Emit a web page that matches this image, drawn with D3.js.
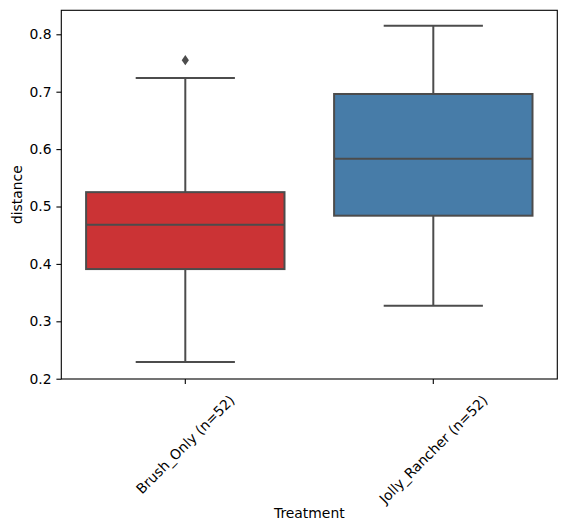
<!DOCTYPE html>
<html>
<head>
<meta charset="utf-8">
<script src="https://cdn.jsdelivr.net/npm/d3@7"></script>
<style>
  body { margin: 0; background: #fff; }
  text { font-family: "DejaVu Sans", sans-serif; }
</style>
</head>
<body>
<div id="chart"></div>
<script>
// Data
const categories = ["Brush_Only (n=52)", "Jolly_Rancher (n=52)"];
const whiskerLow = [0.229, 0.327];
const q1 = [0.391, 0.484];
const median = [0.468, 0.583];
const q3 = [0.525, 0.696];
const whiskerHigh = [0.724, 0.815];
const outliers = [[0.755], []];
const colors = ["#cb3335", "#477ca8"];
const yTicks = [0.2, 0.3, 0.4, 0.5, 0.6, 0.7, 0.8];

const FRAME_WIDTH = 567;
const FRAME_HEIGHT = 532;
const MARGINS = {left: 61.3, right: 9.7, top: 10.3, bottom: 153};
const LINE = "#4c4c4c";

const svg = d3.select("#chart")
  .append("svg")
    .attr("width", FRAME_WIDTH)
    .attr("height", FRAME_HEIGHT);

const x = d3.scaleBand()
  .domain(categories)
  .range([MARGINS.left, FRAME_WIDTH - MARGINS.right])
  .padding(0);

const y = d3.scaleLinear()
  .domain([0.1995, 0.8418])
  .range([FRAME_HEIGHT - MARGINS.bottom, MARGINS.top]);

const boxW = x.bandwidth() * 0.8;
const capW = boxW / 2;

// build rows for drawing
const rows = categories.map((c, i) => ({
  cat: c, lo: whiskerLow[i], q1: q1[i], med: median[i], q3: q3[i],
  hi: whiskerHigh[i], out: outliers[i], color: colors[i]
}));

const g = svg.append("g");

rows.forEach(r => {
  const cx = x(r.cat) + x.bandwidth() / 2;
  // whiskers
  g.append("line").attr("x1", cx).attr("x2", cx)
    .attr("y1", y(r.q3)).attr("y2", y(r.hi))
    .attr("stroke", LINE).attr("stroke-width", 2);
  g.append("line").attr("x1", cx).attr("x2", cx)
    .attr("y1", y(r.q1)).attr("y2", y(r.lo))
    .attr("stroke", LINE).attr("stroke-width", 2);
  // caps
  [r.lo, r.hi].forEach(v => {
    g.append("line").attr("x1", cx - capW / 2).attr("x2", cx + capW / 2)
      .attr("y1", y(v)).attr("y2", y(v))
      .attr("stroke", LINE).attr("stroke-width", 2);
  });
  // box
  g.append("rect")
    .attr("x", cx - boxW / 2).attr("width", boxW)
    .attr("y", y(r.q3)).attr("height", y(r.q1) - y(r.q3))
    .attr("fill", r.color).attr("stroke", LINE).attr("stroke-width", 2);
  // median
  g.append("line").attr("x1", cx - boxW / 2).attr("x2", cx + boxW / 2)
    .attr("y1", y(r.med)).attr("y2", y(r.med))
    .attr("stroke", LINE).attr("stroke-width", 2);
  // fliers (thin diamonds)
  r.out.forEach(v => {
    const py = y(v);
    g.append("path")
      .attr("d", `M${cx},${py - 5.2}L${cx + 3.6},${py}L${cx},${py + 5.2}L${cx - 3.6},${py}Z`)
      .attr("fill", LINE);
  });
});

// spines
svg.append("rect")
  .attr("x", MARGINS.left).attr("y", MARGINS.top)
  .attr("width", FRAME_WIDTH - MARGINS.left - MARGINS.right)
  .attr("height", FRAME_HEIGHT - MARGINS.top - MARGINS.bottom)
  .attr("fill", "none").attr("stroke", "#000").attr("stroke-width", 1.1);

// y axis
const yAxis = svg.append("g")
  .attr("transform", `translate(${MARGINS.left},0)`)
  .call(d3.axisLeft(y).tickValues(yTicks).tickFormat(d3.format(".1f"))
    .tickSize(4.9).tickPadding(4.9));
yAxis.select(".domain").remove();
yAxis.selectAll("line").attr("stroke", "#000").attr("stroke-width", 1.1);
yAxis.selectAll("text").attr("font-size", 13.9).attr("fill", "#000")
  .attr("font-family", "DejaVu Sans");

// x axis
const baseY = FRAME_HEIGHT - MARGINS.bottom;
const xAxis = svg.append("g")
  .attr("transform", `translate(0,${baseY})`)
  .call(d3.axisBottom(x).tickSize(4.9).tickFormat(""));
xAxis.select(".domain").remove();
xAxis.selectAll("line").attr("stroke", "#000").attr("stroke-width", 1.1);

categories.forEach(c => {
  const cx = x(c) + x.bandwidth() / 2;
  const t = svg.append("text")
    .attr("font-size", 13.9)
    .attr("text-anchor", "middle")
    .attr("dominant-baseline", "central")
    .text(c);
  const L = t.node().getComputedTextLength();
  const cy = baseY + 13 + (L + 16) / (2 * Math.SQRT2);
  t.attr("transform", `translate(${cx},${cy}) rotate(-45)`);
});

// axis titles
svg.append("text")
  .attr("x", x.range()[0] + (x.range()[1] - x.range()[0]) / 2)
  .attr("y", 518)
  .attr("text-anchor", "middle")
  .attr("font-size", 13.9)
  .text("Treatment");

svg.append("text")
  .attr("transform", `translate(22,${(MARGINS.top + baseY) / 2}) rotate(-90)`)
  .attr("text-anchor", "middle")
  .attr("font-size", 13.9)
  .text("distance");
</script>
</body>
</html>
